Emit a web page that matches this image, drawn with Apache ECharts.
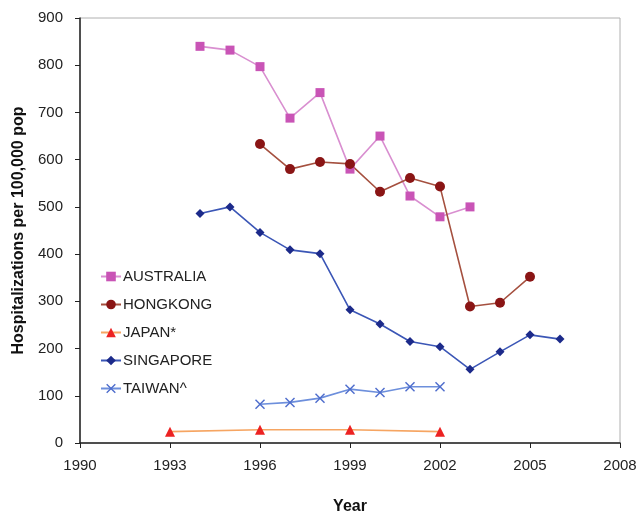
<!DOCTYPE html>
<html>
<head>
<meta charset="utf-8">
<script src="https://cdn.jsdelivr.net/npm/echarts@6/dist/echarts.min.js"></script>
<style>
  html, body { margin: 0; padding: 0; background: #fff; }
  #chart { width: 638px; height: 514px; }
</style>
</head>
<body>
<div id="chart"></div>
<script>
// Year categories along the x axis
const years = [];
for (let y = 1990; y <= 2008; y++) years.push(String(y));

const australiaYears = [1994, 1995, 1996, 1997, 1998, 1999, 2000, 2001, 2002, 2003];
const australiaValues = [840, 832, 797, 688, 742, 580, 650, 523, 479, 500];

const hongkongYears = [1996, 1997, 1998, 1999, 2000, 2001, 2002, 2003, 2004, 2005];
const hongkongValues = [633, 580, 595, 591, 532, 561, 543, 289, 297, 352];

const japanYears = [1993, 1996, 1999, 2002];
const japanValues = [24, 28, 28, 24];

const singaporeYears = [1994, 1995, 1996, 1997, 1998, 1999, 2000, 2001, 2002, 2003, 2004, 2005, 2006];
const singaporeValues = [486, 500, 446, 409, 401, 282, 252, 215, 204, 156, 193, 229, 220];

const taiwanYears = [1996, 1997, 1998, 1999, 2000, 2001, 2002];
const taiwanValues = [82, 86, 95, 114, 107, 119, 119];

const font = '"Liberation Sans", Arial, sans-serif';
const crossPath = 'path://M0,1L1,0L5,4L9,0L10,1L6,5L10,9L9,10L5,6L1,10L0,9L4,5Z';

// pair each year with its value for the category axis
const pairs = (ys, vs) => ys.map((y, i) => [String(y), vs[i]]);

function makeSeries(name, ys, vs, lineColor, markColor, symbol, size) {
  return {
    name,
    type: 'line',
    data: pairs(ys, vs),
    symbol,
    symbolSize: size,
    connectNulls: true,
    lineStyle: { color: lineColor, width: 1.6 },
    itemStyle: { color: markColor },
  };
}

const chart = echarts.init(document.getElementById('chart'));

chart.setOption({
  animation: false,
  grid: {
    left: 80,
    right: 18,
    top: 18,
    bottom: 71,
    containLabel: false,
    outerBoundsMode: 'none',
    show: true,
    borderColor: '#b0b0b0',
    borderWidth: 1,
  },
  legend: {
    orient: 'vertical',
    left: 95,
    top: 264,
    itemWidth: 20,
    itemHeight: 12,
    itemGap: 13,
    textStyle: { fontFamily: font, fontSize: 15, color: '#222', padding: [0, 0, 0, -3] },
    data: ['AUSTRALIA', 'HONGKONG', 'JAPAN*', 'SINGAPORE', 'TAIWAN^'],
  },
  xAxis: {
    type: 'category',
    data: years,
    boundaryGap: false,
    name: 'Year',
    nameLocation: 'middle',
    nameGap: 56,
    nameTextStyle: { fontFamily: font, fontSize: 16, fontWeight: 'bold', color: '#111' },
    axisLine: { lineStyle: { color: '#222', width: 1.5 } },
    axisTick: { interval: 2, length: 5, lineStyle: { color: '#222' } },
    axisLabel: { interval: 2, fontFamily: font, fontSize: 15, color: '#222', margin: 15 },
    splitLine: { show: false },
  },
  yAxis: {
    type: 'value',
    min: 0,
    max: 900,
    interval: 100,
    name: 'Hospitalizations per 100,000 pop',
    nameLocation: 'middle',
    nameGap: 53,
    nameTextStyle: { fontFamily: font, fontSize: 16, fontWeight: 'bold', color: '#111' },
    axisLine: { show: true, lineStyle: { color: '#222', width: 1.5 } },
    axisTick: { show: true, length: 5, lineStyle: { color: '#222' } },
    axisLabel: { fontFamily: font, fontSize: 15, color: '#222', margin: 17 },
    splitLine: { show: false },
  },
  series: [
    makeSeries('AUSTRALIA', australiaYears, australiaValues, '#d98fd0', '#c954b6', 'rect', 9),
    makeSeries('HONGKONG', hongkongYears, hongkongValues, '#a5503f', '#8a1515', 'circle', 10),
    makeSeries('JAPAN*', japanYears, japanValues, '#f6a562', '#ec2222', 'triangle', 10),
    makeSeries('SINGAPORE', singaporeYears, singaporeValues, '#3b56b6', '#1c2a8a', 'diamond', 9),
    makeSeries('TAIWAN^', taiwanYears, taiwanValues, '#6d8fdc', '#4d6ccc', crossPath, 10),
  ],
});
</script>
</body>
</html>
